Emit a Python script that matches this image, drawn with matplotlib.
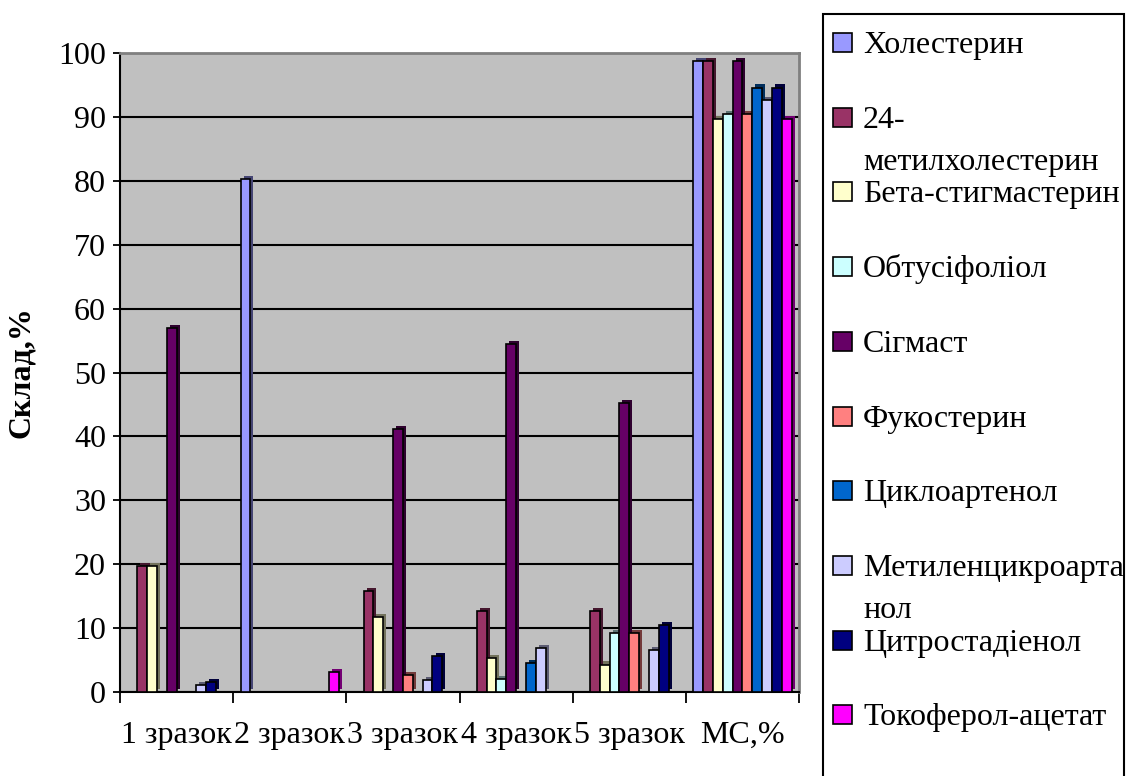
import matplotlib
matplotlib.use('Agg')
import matplotlib.pyplot as plt
import matplotlib.patheffects as pe
from matplotlib.patches import Rectangle
from matplotlib.colors import to_rgb
import numpy as np

plt.rcParams['font.family'] = ['Liberation Serif', 'DejaVu Serif']

categories = ['1 зразок', '2 зразок', '3 зразок', '4 зразок', '5 зразок', 'МС,%']
series = ['Холестерин', '24-\nметилхолестерин', 'Бета-стигмастерин',
          'Обтусіфоліол', 'Сігмаст', 'Фукостерин', 'Циклоартенол',
          'Метиленцикроарта\nнол', 'Цитростадіенол', 'Токоферол-ацетат']
colors = ['#9999FF', '#993366', '#FFFFCC', '#CCFFFF', '#660066',
          '#FF8080', '#0066CC', '#CCCCFF', '#000080', '#FF00FF']

# values per series, one per category
cholesterol = [0, 80.3, 0, 0, 0, 98.7]
methylcholesterol = [19.7, 0, 15.8, 12.6, 12.6, 98.7]
beta_stigmasterol = [19.7, 0, 11.7, 5.3, 4.3, 89.6]
obtusifoliol = [0, 0, 0, 2.0, 9.2, 90.5]
sigmast = [57.0, 0, 41.2, 54.5, 45.2, 98.7]
fucosterol = [0, 0, 2.6, 0, 9.2, 90.5]
cycloartenol = [0, 0, 0, 4.6, 0, 94.6]
methylenecycloartanol = [1.1, 0, 1.9, 6.9, 6.6, 92.6]
citrostadienol = [1.5, 0, 5.6, 0, 10.5, 94.6]
tocopherol = [0, 3.1, 0, 0, 0, 89.6]

values = [cholesterol, methylcholesterol, beta_stigmasterol, obtusifoliol,
          sigmast, fucosterol, cycloartenol, methylenecycloartanol,
          citrostadienol, tocopherol]


def darker(c, k=0.45):
    r, g, b = to_rgb(c)
    return (r * k, g * k, b * k)


W, H = 1127, 776
fig = plt.figure(figsize=(W / 100, H / 100), dpi=100)
ax = fig.add_axes([120 / W, 1 - 692 / H, (799 - 120) / W, (692 - 53) / H])
ax.set_facecolor('#C0C0C0')

x = np.arange(len(categories))
bw = 0.087
for j, (vals, col) in enumerate(zip(values, colors)):
    pos = x + (j - 4.5) * bw
    keep = [i for i, v in enumerate(vals) if v > 0]
    ax.bar(pos[keep], [vals[i] for i in keep], bw, color=col,
           edgecolor='black', linewidth=1.2, zorder=3,
           path_effects=[pe.SimplePatchShadow(offset=(2.2, 2.2),
                                              shadow_rgbFace=darker(col),
                                              alpha=1.0),
                         pe.Normal()])

ax.set_xlim(-0.5, len(categories) - 0.5)
ax.set_ylim(0, 100)
ax.set_yticks(np.arange(0, 101, 10))
ax.yaxis.grid(True, color='black', linewidth=1.5)
ax.set_axisbelow(True)

ax.set_xticks(np.arange(-0.5, len(categories)), minor=False)
ax.set_xticklabels([])
ax.set_xticks(x, minor=True)
ax.set_xticklabels(categories, minor=True)
ax.tick_params(axis='x', which='major', direction='out', length=8, width=1.3)
ax.tick_params(axis='x', which='minor', length=0, pad=21, labelsize=23)
ax.tick_params(axis='y', direction='out', length=5, width=1.3, pad=5,
               labelsize=23)

for s in ['left', 'bottom']:
    ax.spines[s].set_color('black')
    ax.spines[s].set_linewidth(1.5)
for s in ['top', 'right']:
    ax.spines[s].set_color('#808080')
    ax.spines[s].set_linewidth(2)

ax.set_ylabel('Склад,%', fontsize=23, fontweight='bold')
ax.yaxis.set_label_coords(-0.123, 0.5)

# legend drawn by hand to keep Excel-like spacing
fig.patches.append(Rectangle((823 / W, -0.02), (1124 - 823) / W,
                             1 - 14 / H + 0.02, transform=fig.transFigure,
                             fill=False, edgecolor='black', linewidth=1.5))
for i, (name, col) in enumerate(zip(series, colors)):
    yc = 1 - (43 + i * 74.7) / H
    fig.patches.append(Rectangle((833 / W, yc - 9 / H), 19 / W, 19 / H,
                                 transform=fig.transFigure, facecolor=col,
                                 edgecolor='black', linewidth=1.2))
    for k, line in enumerate(name.split('\n')):
        fig.text(863 / W, yc - (10 + 42 * k) / H, line, va='baseline',
                 ha='left', fontsize=23)

fig.savefig('out.png', dpi=100)
